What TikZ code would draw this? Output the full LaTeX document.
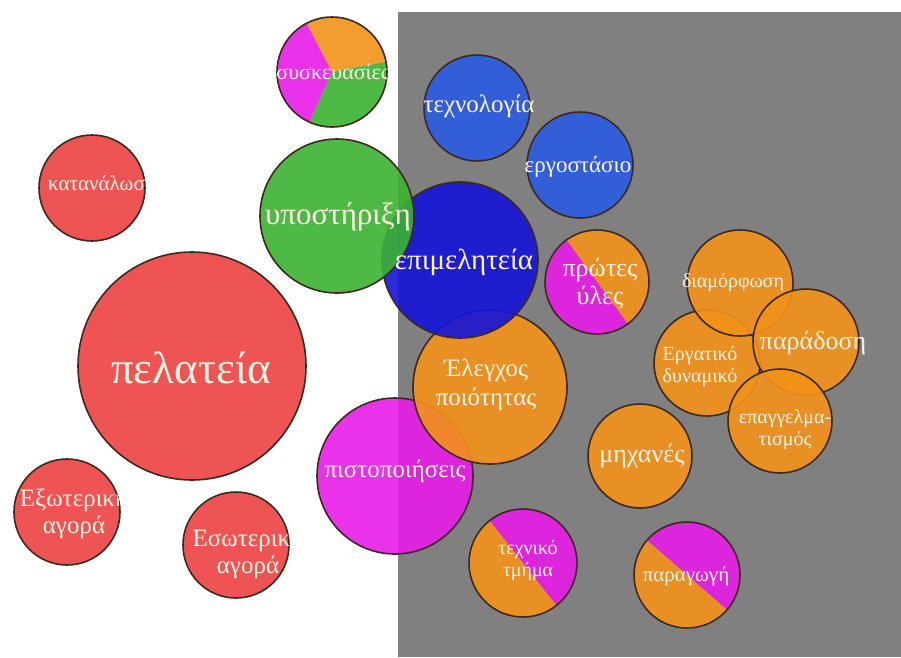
\documentclass[tikz,border=0pt]{standalone}
\usepackage{fontspec}
\setmainfont{Liberation Serif}
\definecolor{cred}{HTML}{EE4242}
\definecolor{cgreen}{HTML}{3CB232}
\definecolor{cblue}{HTML}{1414D8}
\definecolor{clblue}{HTML}{2A5CE2}
\definecolor{corange}{HTML}{F4921A}
\definecolor{cmag}{HTML}{E81CE8}
\definecolor{cgray}{HTML}{808080}
\definecolor{outl}{HTML}{3C2A20}
\definecolor{txt}{HTML}{FFF3E3}
\newcommand{\fs}[1]{\fontsize{#1}{#1}\selectfont}
\tikzset{
  bub/.style={circle, draw=outl, line width=1.6pt, fill opacity=0.9, inner sep=0pt, minimum size=#1},
  ring/.style={circle, draw=outl, line width=1.6pt, inner sep=0pt, minimum size=#1},
  lbl/.style={text=txt, align=center, inner sep=0pt}
}
\begin{document}
\begin{tikzpicture}[x=1pt,y=-1pt]
\useasboundingbox (0,0) rectangle (901,657);
\fill[white] (0,0) rectangle (901,657);
\fill[cgray] (398,12) rectangle (901,657);

% circles
\node[bub=228, fill=cred] (pel) at (192,366) {};
\node[bub=106, fill=cred] (kat) at (92,188) {};
\node[bub=106, fill=cred] (exo) at (67,512) {};
\node[bub=106, fill=cred] (eso) at (236,545) {};

% syskevasies pie
\begin{scope}[fill opacity=0.9]
\fill[corange] (332,72) -- ++(-10.7:55) arc[start angle=-10.7, end angle=-117.6, radius=55] -- cycle;
\fill[cmag] (332,72) -- ++(-117.6:55) arc[start angle=-117.6, end angle=-246, radius=55] -- cycle;
\fill[cgreen] (332,72) -- ++(-246:55) arc[start angle=-246, end angle=-370.7, radius=55] -- cycle;
\end{scope}
\node[ring=110] (sys) at (332,72) {};

\node[bub=106, fill=clblue] (tex) at (477,108) {};
\node[bub=106, fill=clblue] (erg) at (580,165) {};
\node[bub=156, fill=cmag] (pis) at (395,476) {};
\node[bub=154, fill=corange] (ele) at (490,387) {};
\node[bub=156, fill=cblue] (epi) at (460,260) {};
\node[bub=154, fill=cgreen] (ypo) at (337,216) {};

% protes yles
\begin{scope}[fill opacity=0.9]
\fill[corange] (597,282) -- ++(53.8:52) arc[start angle=53.8, end angle=-126.2, radius=52] -- cycle;
\fill[cmag] (597,282) -- ++(-126.2:52) arc[start angle=-126.2, end angle=-306.2, radius=52] -- cycle;
\end{scope}
\node[ring=104] (pro) at (597,282) {};

\node[bub=104, fill=corange] (mix) at (640,456) {};

% texniko tmima
\begin{scope}[fill opacity=0.9]
\fill[cmag] (523,563) -- ++(51.8:54) arc[start angle=51.8, end angle=-128.2, radius=54] -- cycle;
\fill[corange] (523,563) -- ++(-128.2:54) arc[start angle=-128.2, end angle=-308.2, radius=54] -- cycle;
\end{scope}
\node[ring=108] (tet) at (523,563) {};

% paragogi
\begin{scope}[fill opacity=0.9]
\fill[cmag] (687,575) -- ++(41:53) arc[start angle=41, end angle=-139, radius=53] -- cycle;
\fill[corange] (687,575) -- ++(-139:53) arc[start angle=-139, end angle=-319, radius=53] -- cycle;
\end{scope}
\node[ring=106] (par) at (687,575) {};

\node[bub=106, fill=corange] (erd) at (707,363) {};
\node[bub=106, fill=corange] (dia) at (740,283) {};
\node[bub=106, fill=corange] (pad) at (806,342) {};
\node[bub=104, fill=corange] (epg) at (780,421) {};

% labels
\node[lbl, font=\fs{45}] (l-pel) at (191,368) {πελατεία};
\begin{scope}
\clip (kat.center) circle (53);
\node[lbl, font=\fs{21}] (l-kat) at (102,185) {κατανάλωση};
\end{scope}
\begin{scope}
\clip (exo.center) circle (53);
\node[lbl, font=\fs{25}, text width=140] (l-exo) at (74,514) {Εξωτερική\\[2pt]αγορά};
\end{scope}
\begin{scope}
\clip (eso.center) circle (53);
\node[lbl, font=\fs{25}, text width=140] (l-eso) at (248,554) {Εσωτερική\\[2pt]αγορά};
\end{scope}
\begin{scope}
\clip (sys.center) circle (55);
\node[lbl, font=\fs{22}] (l-sys) at (333,74) {συσκευασίες};
\end{scope}
\node[lbl, font=\fs{25}] (l-tex) at (479,106) {τεχνολογία};
\node[lbl, font=\fs{23}] (l-erg) at (578,167) {εργοστάσιο};
\node[lbl, font=\fs{31}] (l-ypo) at (338,217) {υποστήριξη};
\node[lbl, font=\fs{29}] (l-epi) at (464,262) {επιμελητεία};
\node[lbl, font=\fs{26}] (l-pro) at (600,284) {πρώτες\\[2pt]ύλες};
\node[lbl, font=\fs{25}] (l-ele) at (486,385) {Έλεγχος\\[4pt]ποιότητας};
\node[lbl, font=\fs{25}] (l-pis) at (395,471) {πιστοποιήσεις};
\node[lbl, font=\fs{26}] (l-mix) at (642,456) {μηχανές};
\node[lbl, font=\fs{20}] (l-tet) at (528,561) {τεχνικό\\[2pt]τμήμα};
\node[lbl, font=\fs{21}] (l-par) at (686,576) {παραγωγή};
\node[lbl, font=\fs{20}] (l-dia) at (733,283) {διαμόρφωση};
\node[lbl, font=\fs{26}] (l-pad) at (813,343) {παράδοση};
\node[lbl, font=\fs{20}] (l-erd) at (700,367) {Εργατικό\\[2pt]δυναμικό};
\node[lbl, font=\fs{20}] (l-epg) at (785,430) {επαγγελμα-\\[2pt]τισμός};
\end{tikzpicture}
\end{document}
